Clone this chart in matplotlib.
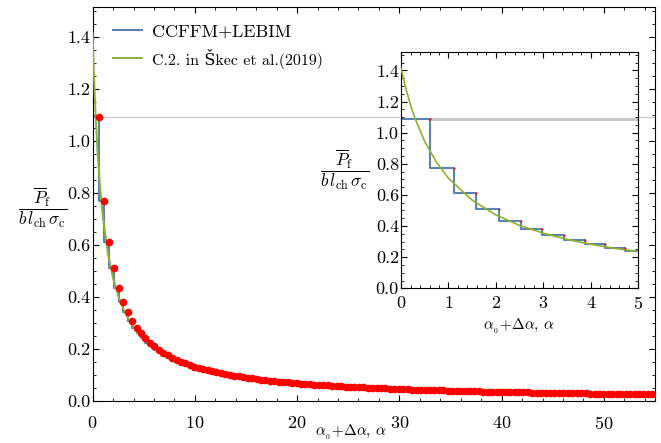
import numpy as np
import matplotlib
matplotlib.use("Agg")
import matplotlib.pyplot as plt
from matplotlib.ticker import MultipleLocator

plt.rcParams['font.family'] = ['cmr10', 'DejaVu Serif']
plt.rcParams['mathtext.fontset'] = 'cm'
plt.rcParams['axes.formatter.use_mathtext'] = True

# crack length (alpha0 + d_alpha) and load of the CCFFM+LEBIM solution
alpha = [0.60, 1.12, 1.59, 2.06, 2.53, 2.98, 3.43, 3.87, 4.29, 4.72,
         5.15, 5.59, 6.02, 6.46, 6.89, 7.33, 7.76, 8.20, 8.63, 9.07,
         9.50, 9.94, 10.37, 10.81, 11.24, 11.68, 12.11, 12.55, 12.98, 13.42,
         13.85, 14.29, 14.72, 15.16, 15.59, 16.03, 16.46, 16.90, 17.33, 17.77,
         18.20, 18.64, 19.07, 19.51, 19.94, 20.38, 20.81, 21.25, 21.68, 22.12,
         22.55, 22.99, 23.42, 23.86, 24.29, 24.73, 25.16, 25.60, 26.03, 26.47,
         26.90, 27.34, 27.77, 28.21, 28.64, 29.08, 29.51, 29.95, 30.38, 30.82,
         31.25, 31.69, 32.12, 32.56, 32.99, 33.43, 33.86, 34.30, 34.73, 35.17,
         35.60, 36.04, 36.47, 36.91, 37.34, 37.78, 38.21, 38.65, 39.08, 39.52,
         39.95, 40.39, 40.82, 41.26, 41.69, 42.13, 42.56, 43.00, 43.43, 43.87,
         44.30, 44.74, 45.17, 45.61, 46.04, 46.48, 46.91, 47.35, 47.78, 48.22,
         48.65, 49.09, 49.52, 49.96, 50.39, 50.83, 51.26, 51.70, 52.13, 52.57,
         53.00, 53.44, 53.87, 54.31, 54.74]
load = [1.090, 0.770, 0.610, 0.510, 0.435, 0.382, 0.341, 0.308, 0.282, 0.260,
        0.241, 0.2241, 0.2098, 0.1969, 0.1858, 0.1757, 0.1667, 0.1585, 0.1512, 0.1444,
        0.1384, 0.1326, 0.1275, 0.1226, 0.1182, 0.1140, 0.1102, 0.1066, 0.1032, 0.1000,
        0.0970, 0.0942, 0.0916, 0.0890, 0.0867, 0.0844, 0.0823, 0.0803, 0.0783, 0.0765,
        0.0747, 0.0730, 0.0715, 0.0699, 0.0684, 0.0670, 0.0657, 0.0644, 0.0631, 0.0619,
        0.0608, 0.0596, 0.0586, 0.0575, 0.0565, 0.0556, 0.0546, 0.0537, 0.0529, 0.0520,
        0.0512, 0.0504, 0.0496, 0.0489, 0.0482, 0.0474, 0.0468, 0.0461, 0.0455, 0.0448,
        0.0442, 0.0436, 0.0431, 0.0425, 0.0419, 0.0414, 0.0409, 0.0404, 0.0399, 0.0394,
        0.0389, 0.0385, 0.0380, 0.0376, 0.0372, 0.0367, 0.0363, 0.0359, 0.0355, 0.0351,
        0.0348, 0.0344, 0.0340, 0.0337, 0.0333, 0.0330, 0.0327, 0.0323, 0.0320, 0.0317,
        0.0314, 0.0311, 0.0308, 0.0305, 0.0302, 0.0300, 0.0297, 0.0294, 0.0292, 0.0289,
        0.0286, 0.0284, 0.0281, 0.0279, 0.0277, 0.0274, 0.0272, 0.0270, 0.0268, 0.0265,
        0.0263, 0.0261, 0.0259, 0.0257, 0.0255]

# reference solution C.2 (Skec et al. 2019)
ref_alpha = [0, 0.1, 0.2, 0.3, 0.5, 0.75, 1, 1.5, 2, 2.5, 3, 3.5, 4, 4.5, 5,
             6, 7, 8, 10, 12, 15, 20, 25, 30, 35, 40, 45, 50, 55]
ref_load = [1.414, 1.285, 1.178, 1.088, 0.943, 0.808, 0.707, 0.566, 0.471, 0.404,
            0.354, 0.314, 0.283, 0.257, 0.236, 0.202, 0.177, 0.157, 0.129, 0.109,
            0.088, 0.067, 0.054, 0.046, 0.039, 0.034, 0.031, 0.028, 0.025]

blue = '#5E81B5'
green = '#8FB032'
gray = '#C8C8C8'

step_x = [0] + alpha
step_y = [load[0]] + load

fig = plt.figure(figsize=(6.61, 4.43), dpi=100)
ax = fig.add_axes([0.1402, 0.0948, 0.8507, 0.8887])

ax.plot([alpha[0], 55], [load[0], load[0]], color=gray, lw=0.9, zorder=1)
ax.step(step_x, step_y, where='pre', color=blue, lw=1.5, zorder=2,
        label='CCFFM+LEBIM')
ax.plot(ref_alpha, ref_load, color=green, lw=1.4, zorder=3,
        label='C.2. in Škec et al.(2019)')
ax.plot(alpha, load, 'o', color='red', ms=5.5, mew=0, zorder=4)

ax.set_xlim(0, 55)
ax.set_ylim(0, 1.513)
ax.xaxis.set_major_locator(MultipleLocator(10))
ax.xaxis.set_minor_locator(MultipleLocator(2))
ax.yaxis.set_major_locator(MultipleLocator(0.2))
ax.yaxis.set_minor_locator(MultipleLocator(0.05))
ax.yaxis.set_major_formatter(plt.FormatStrFormatter('%.1f'))
ax.tick_params(which='both', direction='in', top=True, right=True, labelsize=13)
ax.tick_params(which='major', length=4.5, width=0.8)
ax.tick_params(which='minor', length=2.5, width=0.6)
ax.tick_params(axis='x', pad=10)
ax.tick_params(axis='y', pad=1.5)

leg = ax.legend(loc='upper left', bbox_to_anchor=(0.036, 0.958), frameon=False,
                borderpad=0, borderaxespad=0, handlelength=1.6,
                handletextpad=0.55, labelspacing=0.5, fontsize=13)
leg.get_texts()[1].set_fontsize(11.5)

xlab = r'$\alpha_{_0}\!+\!\Delta\alpha,\,\alpha$'
fig.text(0.530, 0.024, xlab, ha='center', va='center', fontsize=11)
ylab = r'$\dfrac{\overline{P}_{\mathrm{f}}}{b\,l_{\mathrm{ch}}\,\sigma_{\mathrm{c}}}$'
fig.text(0.064, 0.5305, ylab, ha='center', va='center', fontsize=12.5)

# inset zoom on the first steps
axi = fig.add_axes([0.6067, 0.3492, 0.359, 0.534])
axi.set_facecolor('white')
axi.plot([alpha[0], 5], [load[0], load[0]], color=gray, lw=2.2, zorder=1)
axi.step(step_x, step_y, where='pre', color=blue, lw=1.5, zorder=2)
axi.plot(ref_alpha, ref_load, color=green, lw=1.2, zorder=3)
axi.plot(alpha, load, 'o', color='red', ms=1.5, mew=0, zorder=4)
axi.set_xlim(0, 5)
axi.set_ylim(0, 1.52)
axi.xaxis.set_major_locator(MultipleLocator(1))
axi.xaxis.set_minor_locator(MultipleLocator(0.2))
axi.yaxis.set_major_locator(MultipleLocator(0.2))
axi.yaxis.set_minor_locator(MultipleLocator(0.05))
axi.yaxis.set_major_formatter(plt.FormatStrFormatter('%.1f'))
axi.tick_params(which='both', direction='in', top=True, right=True, labelsize=13)
axi.tick_params(which='major', length=4, width=0.8)
axi.tick_params(which='minor', length=2.2, width=0.6)
axi.tick_params(axis='x', pad=5)
axi.tick_params(axis='y', pad=1.5)

fig.text(0.7852, 0.2625, xlab, ha='center', va='center', fontsize=11)
fig.text(0.5219, 0.6163, ylab, ha='center', va='center', fontsize=12.5)

fig.savefig('out.png', dpi=100)
